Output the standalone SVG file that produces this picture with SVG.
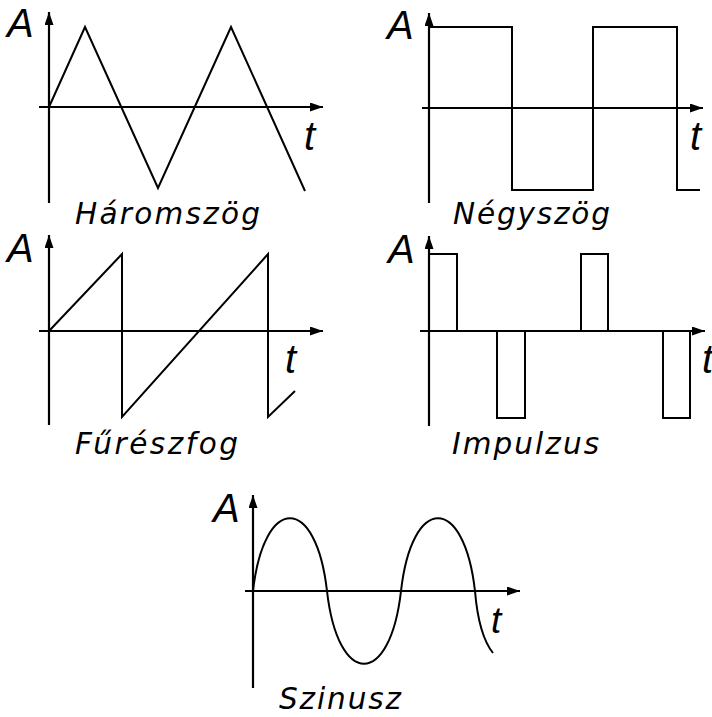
<svg xmlns="http://www.w3.org/2000/svg" width="712" height="717" viewBox="0 0 712 717">
<style>
.ax{fill:none;stroke:#000;stroke-width:2.2;marker-end:url(#arr)}
.w{fill:none;stroke:#000;stroke-width:2;stroke-linejoin:miter}
.lb{font-family:"Liberation Sans",Arial,sans-serif;font-style:italic;fill:#000}
.big{font-size:40px}
.cap{font-family:"DejaVu Sans","Liberation Sans",sans-serif;font-size:29.5px}
</style>
<defs>
<marker id="arr" markerUnits="userSpaceOnUse" markerWidth="14" markerHeight="10" refX="13" refY="4.5" orient="auto">
<path d="M0,0 L13,4.5 L0,9 z" fill="#000"/>
</marker>
</defs>
<rect width="712" height="717" fill="#fff"/>

<g id="haromszog">
<path class="ax" d="M49,203 L49,12"/>
<path class="ax" d="M39,107 L323,107"/>
<path class="w" d="M49,107 L85,27 L158,188 L231,27 L305,191"/>
<text class="lb big" x="7" y="37">A</text>
<text class="lb big" x="304" y="150">t</text>
<text class="lb cap" x="75" y="224" textLength="185" lengthAdjust="spacing">Háromszög</text>
</g>

<g id="negyszog">
<path class="ax" d="M429,203 L429,13"/>
<path class="ax" d="M422,108 L703,108"/>
<path class="w" d="M429,27 L512,27 L512,190 L593,190 L593,27 L677,27 L677,190 L700,190"/>
<text class="lb big" x="387" y="39">A</text>
<text class="lb big" x="690" y="150">t</text>
<text class="lb cap" x="453" y="224" textLength="157" lengthAdjust="spacing">Négyszög</text>
</g>

<g id="fureszfog">
<path class="ax" d="M49,425 L49,235"/>
<path class="ax" d="M39,331 L323,331"/>
<path class="w" d="M49,331 L122,254 L122,417 L268,254 L268,417 L295,391"/>
<text class="lb big" x="7" y="262">A</text>
<text class="lb big" x="285" y="373">t</text>
<text class="lb cap" x="75" y="454" textLength="163" lengthAdjust="spacing">Fűrészfog</text>
</g>

<g id="impulzus">
<path class="ax" d="M429,426 L429,236"/>
<path class="ax" d="M420,331 L705,331"/>
<path class="w" d="M429,254 L457,254 L457,331 M497,331 L497,418 L525,418 L525,331 M581,331 L581,254 L608,254 L608,331 M663,331 L663,418 L690,418 L690,331"/>
<text class="lb big" x="388" y="263">A</text>
<text class="lb big" x="702" y="373">t</text>
<text class="lb cap" x="452" y="454" textLength="147" lengthAdjust="spacing">Impulzus</text>
</g>

<g id="szinusz">
<path class="ax" d="M253,688 L253,495"/>
<path class="ax" d="M245,591 L520,591"/>
<path class="w" d="M253,591 C264,494 316,494 327,591 C338,688 390,688 401,591 C412,494 464,494 475,591 C477,615 481,638 493,653"/>
<text class="lb big" x="213" y="522">A</text>
<text class="lb big" x="491" y="633" style="font-size:37px">t</text>
<text class="lb cap" x="279" y="709" textLength="122" lengthAdjust="spacing">Szinusz</text>
</g>
</svg>
